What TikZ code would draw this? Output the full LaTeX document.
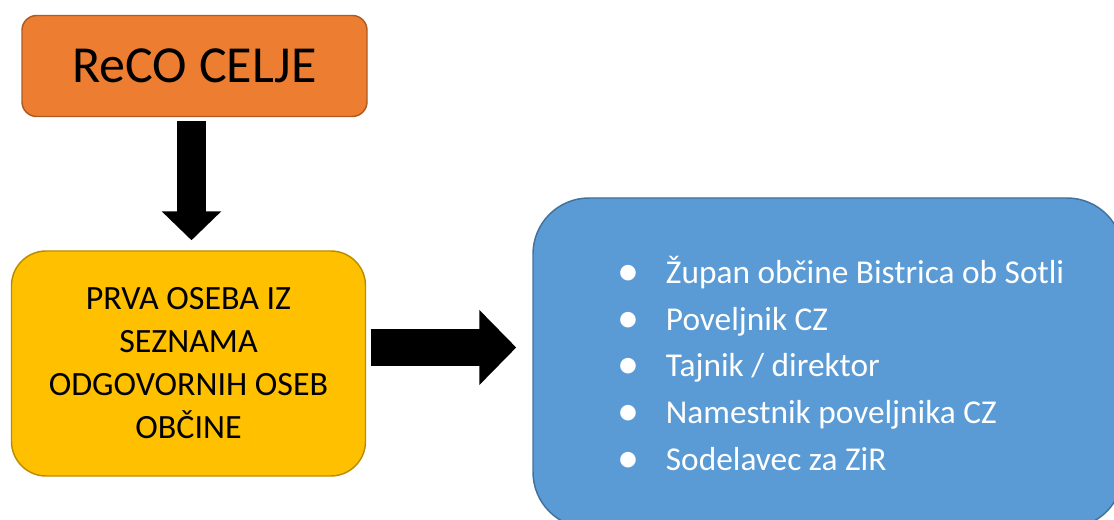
\documentclass[tikz,border=0pt]{standalone}
\usepackage{fontspec}
\setmainfont{Carlito}
\usetikzlibrary{positioning,arrows.meta}

\definecolor{recoorange}{HTML}{ED7D31}
\definecolor{recoline}{HTML}{AE5A21}
\definecolor{prvayellow}{HTML}{FFC000}
\definecolor{prvaline}{HTML}{BC8C00}
\definecolor{listblue}{HTML}{5B9BD5}
\definecolor{listline}{HTML}{41719C}

\newcommand{\listbullet}{\makebox[35pt][l]{\hspace*{-1pt}\raisebox{-1.5pt}{\fontsize{33}{33}\selectfont\textbullet}}}

\begin{document}
\begin{tikzpicture}[x=0.75pt,y=-0.75pt]

\tikzstyle{box}=[draw, line width=1.1pt, inner sep=0pt];
\tikzstyle{listitem}=[anchor=base west, inner sep=0pt, text=white, font=\fontsize{25}{30}\selectfont];

\useasboundingbox (0,0) rectangle (1114,520);

% boxes
\node[box, fill=recoorange, draw=recoline, rounded corners=11pt,
      minimum width=258.75pt, minimum height=75.75pt,
      font=\fontsize{39}{44}\selectfont] (reco) at (194.5,66) {ReCO CELJE};

\node[box, fill=prvayellow, draw=prvaline, rounded corners=26pt,
      minimum width=265.5pt, minimum height=168.75pt, align=center,
      font=\fontsize{25.5}{32.25}\selectfont] (prva) at (188.5,363.5)
      {PRVA OSEBA IZ\\SEZNAMA\\ODGOVORNIH OSEB\\OBČINE};

\node[box, fill=listblue, draw=listline, rounded corners=42pt,
      minimum width=442.5pt, minimum height=247.5pt] (seznam) at (828,363) {};

% list
\node[listitem] (zupan) at (619,284) {\listbullet Župan občine Bistrica ob Sotli};
\node[listitem] (poveljnik) at (619,330.5) {\listbullet Poveljnik CZ};
\node[listitem] (tajnik) at (619,377) {\listbullet Tajnik / direktor};
\node[listitem] (namestnik) at (619,423.5) {\listbullet Namestnik poveljnika CZ};
\node[listitem] (sodelavec) at (619,470) {\listbullet Sodelavec za ZiR};

% arrows
\coordinate (downend) at ([xshift=2.25pt]prva.north);
\draw[line width=21.75pt, -{Triangle[length=21.75pt,width=43.5pt]},
      shorten <=3pt, shorten >=7.5pt] (downend |- reco.south) -- (downend);
\coordinate (arrowstart) at ([yshift=12pt]prva.east);
\draw[line width=27.75pt, -{Triangle[length=27.75pt,width=54.75pt]},
      shorten <=3.5pt, shorten >=12pt] (arrowstart) -- (arrowstart -| seznam.west);

\end{tikzpicture}
\end{document}
